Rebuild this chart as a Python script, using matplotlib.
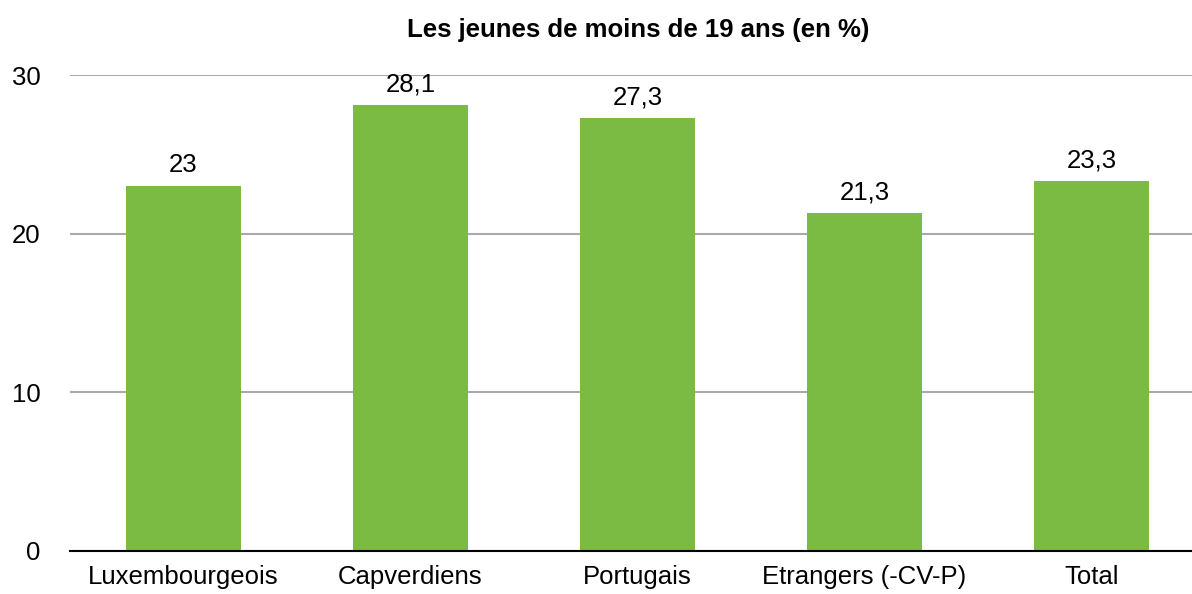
import matplotlib.pyplot as plt

categories = ['Luxembourgeois', 'Capverdiens', 'Portugais', 'Etrangers (-CV-P)', 'Total']
values = [23, 28.1, 27.3, 21.3, 23.3]
labels = ['23', '28,1', '27,3', '21,3', '23,3']
yticks = [0, 10, 20, 30]

plt.rcParams['font.family'] = ['Liberation Sans', 'DejaVu Sans']

fig = plt.figure(figsize=(11.92, 5.94), dpi=100)
ax = fig.add_axes([0.0587, 0.0724, 0.9413, 0.8013])

bars = ax.bar(range(len(categories)), values, width=0.507, color='#7bbb44', zorder=3)
for b, lab in zip(bars, labels):
    ax.text(b.get_x() + b.get_width() / 2, b.get_height() + 0.55, lab,
            ha='center', va='bottom', fontsize=18.5)

ax.set_xlim(-0.5, 4.443)
ax.set_ylim(0, 30)
ax.set_yticks(yticks)
ax.set_xticks(range(len(categories)))
ax.set_xticklabels(categories)
ax.tick_params(axis='both', length=0, labelsize=18.5)
ax.tick_params(axis='y', pad=21)
ax.tick_params(axis='x', pad=10)
ax.yaxis.grid(True, color='#aaaaaa', linewidth=1.5, zorder=0)
for s in ['left', 'right', 'top']:
    ax.spines[s].set_visible(False)
ax.spines['bottom'].set_linewidth(1.5)
ax.spines['bottom'].set_zorder(4)

fig.text(0.535, 0.95, 'Les jeunes de moins de 19 ans (en %)', ha='center', va='center',
         fontsize=18.5, fontweight='bold')

fig.savefig('out.png', dpi=100)
